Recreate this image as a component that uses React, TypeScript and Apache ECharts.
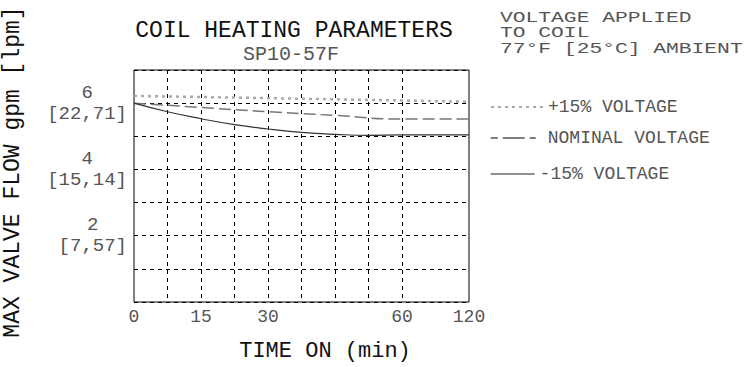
import React, { useEffect, useRef } from "react";
import * as echarts from "echarts";

// ---- data ----
const seriesNames = ["+15% VOLTAGE", "NOMINAL VOLTAGE", "-15% VOLTAGE"];
const timePlus15 = [0, 30, 60, 120];
const plus15 = [6.22, 6.15, 6.08, 6.04];
const timeNominal = [0, 15, 30, 45, 60, 120];
const nominal = [6.0, 5.87, 5.74, 5.63, 5.52, 5.52];
const timeMinus15 = [0, 7.5, 15, 22.5, 30, 37.5, 45, 52.5, 60, 120];
const minus15 = [6.0, 5.74, 5.53, 5.35, 5.22, 5.12, 5.06, 5.03, 5.04, 5.04];

const xTickTimes = [0, 15, 30, 60, 120];
const yTickGpm = [2, 4, 6];
const yTickLpm = ["7,57", "15,14", "22,71"];
const gridDivisions = ["0", "1", "2", "3", "4", "5", "6", "7", "8", "9", "10"];
const noteLines = ["VOLTAGE APPLIED", "TO COIL", "77°F [25°C] AMBIENT"];

// time axis of the chart: 0..60 min linear over 8 divisions, 60..120 over 2
const toAxis = (t: number) => (t <= 60 ? t / 7.5 : 8 + (t - 60) / 30);
const pairs = (ts: number[], vs: number[]) => ts.map((t, i) => [toAxis(t), vs[i]]);

const FONT = '"Liberation Mono", "DejaVu Sans Mono", monospace';
const GRAY = "#555";
const DARK = "#111";

export default function App() {
  const ref = useRef<HTMLDivElement>(null);
  useEffect(() => {
    if (!ref.current) return;
    const chart = echarts.init(ref.current, undefined, { renderer: "svg" });
    const legendBase = {
      orient: "horizontal",
      left: 485,
      itemWidth: 52,
      itemHeight: 14,
      itemGap: 5,
      itemStyle: { opacity: 0 },
      textStyle: { fontFamily: FONT, fontSize: 18, color: GRAY },
    };
    chart.setOption({
      animation: false,
      grid: {
        left: 134,
        right: 287,
        top: 70,
        bottom: 64,
        show: true,
        borderColor: "#000",
        borderWidth: 1,
        backgroundColor: "transparent",
      },
      legend: [
        { ...legendBase, top: 93, data: [seriesNames[0]] },
        {
          ...legendBase,
          top: 124,
          data: [seriesNames[1]],
          lineStyle: { type: [7, 5, 22, 5, 6], color: "#555", width: 1.5 },
        },
        {
          ...legendBase,
          top: 160,
          itemWidth: 44,
          data: [seriesNames[2]],
          lineStyle: { color: "#222", width: 1.2 },
        },
      ],
      xAxis: [
        {
          type: "value",
          min: 0,
          max: 10,
          interval: 1,
          axisLine: { show: false },
          axisTick: { show: false },
          splitLine: { show: false },
          axisLabel: {
            margin: 6,
            fontFamily: FONT,
            fontSize: 18,
            color: GRAY,
            formatter: (v: number) => {
              const t = xTickTimes.find((tt) => Math.abs(toAxis(tt) - v) < 1e-6);
              return t === undefined ? "" : String(t);
            },
          },
          name: "TIME ON (min)",
          nameLocation: "middle",
          nameGap: 38,
          nameTextStyle: {
            fontFamily: FONT,
            fontSize: 22,
            color: DARK,
            padding: [0, 0, 0, 47],
          },
        },
        {
          type: "category",
          data: gridDivisions,
          boundaryGap: false,
          position: "bottom",
          axisLine: { show: false },
          axisTick: { show: false },
          axisLabel: { show: false },
          splitLine: {
            show: true,
            interval: (index: number) => index >= 1 && index <= 8,
            lineStyle: { color: "#000", width: 1, type: [4, 4] },
          },
        },
      ],
      yAxis: {
        type: "value",
        min: 0,
        max: 7,
        interval: 1,
        axisLine: { show: false },
        axisTick: { show: false },
        splitLine: { show: true, lineStyle: { color: "#000", width: 1, type: [4, 4] } },
        axisLabel: {
          margin: 7,
          align: "right",
          formatter: (v: number) => {
            const i = yTickGpm.indexOf(v);
            return i < 0 ? "" : `{n|${yTickGpm[i]}}\n{l|[${yTickLpm[i]}]}`;
          },
          rich: {
            n: { fontFamily: FONT, fontSize: 19, color: GRAY, align: "center", lineHeight: 21 },
            l: { fontFamily: FONT, fontSize: 19, color: GRAY, align: "center", lineHeight: 21 },
          },
        },
      },
      series: [
        {
          name: seriesNames[0],
          type: "line",
          xAxisIndex: 0,
          symbol: "none",
          data: pairs(timePlus15, plus15),
          lineStyle: { color: "#aaa", width: 2.5, type: [3, 4] },
          itemStyle: { color: "#aaa" },
          z: 5,
        },
        {
          name: seriesNames[1],
          type: "line",
          xAxisIndex: 0,
          symbol: "none",
          smooth: true,
          data: pairs(timeNominal, nominal),
          lineStyle: { color: "#777", width: 1.5, type: [12, 5] },
          itemStyle: { color: "#777" },
          z: 5,
        },
        {
          name: seriesNames[2],
          type: "line",
          xAxisIndex: 0,
          symbol: "none",
          smooth: true,
          data: pairs(timeMinus15, minus15),
          lineStyle: { color: "#333", width: 1.2, type: "solid" },
          itemStyle: { color: "#333" },
          z: 5,
        },
      ],
      graphic: [
        {
          type: "text",
          x: 294,
          y: 31,
          style: {
            text: "COIL HEATING PARAMETERS",
            font: `23px ${FONT}`,
            fill: DARK,
            align: "center",
            verticalAlign: "middle",
            textAlign: "center",
            textVerticalAlign: "middle",
          },
        },
        {
          type: "text",
          x: 291,
          y: 54,
          style: {
            text: "SP10-57F",
            font: `20px ${FONT}`,
            fill: GRAY,
            align: "center",
            verticalAlign: "middle",
            textAlign: "center",
            textVerticalAlign: "middle",
          },
        },
        ...noteLines.map((line, i) => ({
          type: "text",
          x: 500,
          y: 18 + i * 15.5,
          scaleX: 1.42,
          style: {
            text: line,
            font: `15px ${FONT}`,
            fill: GRAY,
            align: "left",
            verticalAlign: "middle",
            textAlign: "left",
            textVerticalAlign: "middle",
          },
        })),
        {
          type: "text",
          x: 13,
          y: 172,
          rotation: Math.PI / 2,
          style: {
            text: "MAX VALVE FLOW gpm [lpm]",
            font: `23px ${FONT}`,
            fill: DARK,
            align: "center",
            verticalAlign: "middle",
            textAlign: "center",
            textVerticalAlign: "middle",
          },
        },
      ],
    });
    return () => chart.dispose();
  }, []);
  return (
    <div
      ref={ref}
      style={{ position: "absolute", left: 0, top: 0, width: 756, height: 367 }}
    />
  );
}
